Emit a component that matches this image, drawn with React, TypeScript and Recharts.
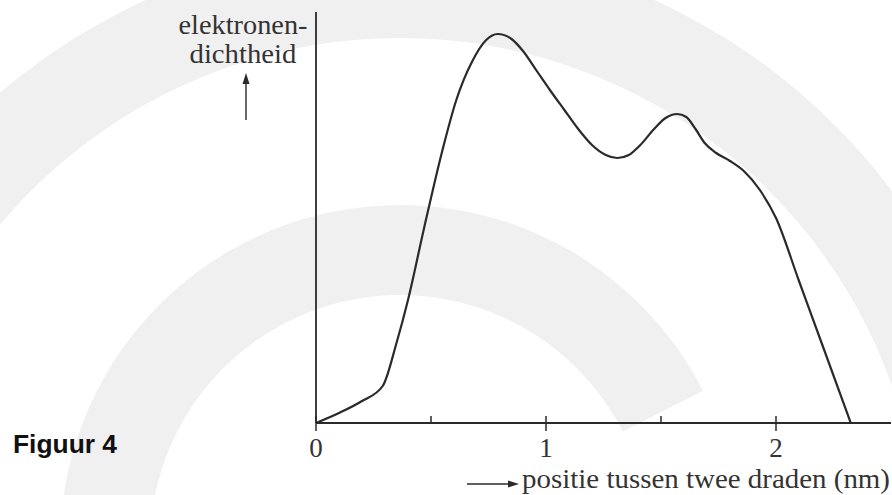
import { LineChart, Line, XAxis, YAxis } from "recharts"

// electron density profile between two wires
const positions = [
  0, 0.1, 0.2, 0.29, 0.35, 0.4, 0.47, 0.55, 0.61, 0.68, 0.74, 0.79, 0.85, 0.9,
  0.96, 1.02, 1.08, 1.14, 1.2, 1.26, 1.31, 1.36, 1.41, 1.47, 1.52, 1.57, 1.61,
  1.65, 1.69, 1.74, 1.8, 1.86, 1.93, 2.0, 2.1, 2.2, 2.325,
]
const density = [
  0, 10, 22, 37, 80, 123, 195, 273, 323, 362, 383, 389, 384, 372,
  352, 332, 313, 294, 278, 268, 265, 268, 278, 294, 305, 309, 306,
  294, 280, 270, 262, 252, 233, 205, 142, 79, 0,
]
const xTicks = [0, 0.5, 1, 1.5, 2]
const tickLabels: Record<number, string> = { 0: "0", 1: "1", 2: "2" }
const yTitle = ["elektronen-", "dichtheid"]
const xTitle = "positie tussen twee draden (nm)"
const caption = "Figuur 4"

const W = 892
const H = 495
const AXIS_Y = 423
const INK = "#2a2a2a"
const SERIF = '"Liberation Serif", "Times New Roman", Times, serif'
const SANS = '"Liberation Sans", Arial, Helvetica, sans-serif'
const BAND = "#f0f0f0"

const data = positions.map((x, i) => ({ x, v: density[i] }))

function AxisTick(props: any) {
  const { x, payload } = props
  const value = payload.value as number
  const major = Number.isInteger(value)
  return (
    <g>
      <line
        x1={x}
        x2={x}
        y1={AXIS_Y - 7}
        y2={major ? AXIS_Y + 8 : AXIS_Y}
        stroke={INK}
        strokeWidth={1.5}
      />
      {major && (
        <text x={x} y={457} textAnchor="middle" style={{ fontFamily: SERIF, fontSize: 27 }} fill="#333">
          {tickLabels[value]}
        </text>
      )}
    </g>
  )
}

// annulus sector, angles in degrees counter-clockwise from +x
function ringPath(cx: number, cy: number, r0: number, r1: number, a0: number, a1: number) {
  const pt = (r: number, a: number) => {
    const t = (a * Math.PI) / 180
    return `${cx + r * Math.cos(t)} ${cy - r * Math.sin(t)}`
  }
  const large = a1 - a0 > 180 ? 1 : 0
  return (
    `M ${pt(r1, a0)} A ${r1} ${r1} 0 ${large} 0 ${pt(r1, a1)} ` +
    `L ${pt(r0, a1)} A ${r0} ${r0} 0 ${large} 1 ${pt(r0, a0)} Z`
  )
}

function Backdrop() {
  return (
    <svg width={W} height={H} style={{ position: "absolute", left: 0, top: 0 }}>
      <rect width={W} height={H} fill="#fff" />
      <path d={ringPath(400, 560, 522, 615, -40, 220)} fill={BAND} />
      <path d={ringPath(400, 545, 250, 340, 27, 215)} fill={BAND} />
    </svg>
  )
}

function Titles() {
  const serif = { fontFamily: SERIF }
  return (
    <svg
      width={W}
      height={H}
      style={{ position: "absolute", left: 0, top: 0, pointerEvents: "none" }}
    >
      <text x={243} y={34} textAnchor="middle" style={{ ...serif, fontSize: 27 }} fill="#333"
        textLength={129} lengthAdjust="spacingAndGlyphs">
        {yTitle[0]}
      </text>
      <text x={243} y={63} textAnchor="middle" style={{ ...serif, fontSize: 27 }} fill="#333"
        textLength={107} lengthAdjust="spacingAndGlyphs">
        {yTitle[1]}
      </text>
      <line x1={246} x2={246} y1={120} y2={82} stroke={INK} strokeWidth={1.4} />
      <path d="M 246 73 L 242.5 84 L 249.5 84 Z" fill={INK} />

      <line x1={467} x2={510} y1={484} y2={484} stroke={INK} strokeWidth={1.4} />
      <path d="M 519 484 L 508 480.5 L 508 487.5 Z" fill={INK} />
      <text x={522} y={488} style={{ ...serif, fontSize: 27 }} fill="#333"
        textLength={368} lengthAdjust="spacingAndGlyphs">
        {xTitle}
      </text>

      <text x={13} y={453} style={{ fontFamily: SANS, fontWeight: "bold", fontSize: 25 }}
        fill="#111" textLength={104} lengthAdjust="spacingAndGlyphs">
        {caption}
      </text>
    </svg>
  )
}

export default function App() {
  return (
    <div style={{ position: "absolute", left: 0, top: 0, width: W, height: H }}>
      <Backdrop />
      <div style={{ position: "absolute", left: 0, top: 0 }}>
        <LineChart
          width={W}
          height={H}
          data={data}
          margin={{ top: 12, right: 1, left: 0, bottom: 32 }}
        >
          <XAxis
            dataKey="x"
            type="number"
            domain={[0, 2.5]}
            ticks={xTicks}
            interval={0}
            height={40}
            tickLine={false}
            tick={<AxisTick />}
            axisLine={{ stroke: INK, strokeWidth: 1.8 }}
          />
          <YAxis
            type="number"
            domain={[0, 411]}
            width={316}
            tick={false}
            tickLine={false}
            axisLine={{ stroke: INK, strokeWidth: 1.8 }}
          />
          <Line
            type="monotone"
            dataKey="v"
            stroke={INK}
            strokeWidth={2.2}
            dot={false}
            isAnimationActive={false}
          />
        </LineChart>
      </div>
      <Titles />
    </div>
  )
}
